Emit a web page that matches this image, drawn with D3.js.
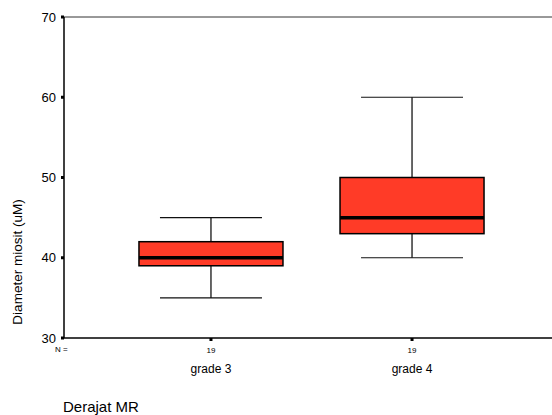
<!DOCTYPE html>
<html>
<head>
<meta charset="utf-8">
<script src="https://cdn.jsdelivr.net/npm/d3@7"></script>
<style>
  body { margin: 0; background: #fff; }
  text { font-family: "Liberation Sans", Arial, sans-serif; fill: #000; }
</style>
</head>
<body>
<svg id="chart" width="552" height="415"></svg>
<script>
// data
const groups = ['grade 3', 'grade 4'];
const counts = [19, 19];
const whiskerLow = [35, 40];
const q1 = [39, 43];
const median = [40, 45];
const q3 = [42, 50];
const whiskerHigh = [45, 60];
const yTicks = [30, 40, 50, 60, 70];

const svg = d3.select('#chart');
const plotL = 64, plotT = 17, plotB = 338, plotR = 559;
const boxW = 144, capW = 102;

const y = d3.scaleLinear().domain([30, 70]).range([plotB, plotT]);
const x = d3.scalePoint().domain(groups).range([plotL, plotR]).padding(0.731);

// frame lines
svg.append('line').attr('x1', plotL).attr('x2', 552).attr('y1', plotT).attr('y2', plotT)
    .attr('stroke', '#333').attr('stroke-width', 1);
svg.append('line').attr('x1', plotL).attr('x2', 552).attr('y1', plotB).attr('y2', plotB)
    .attr('stroke', '#000').attr('stroke-width', 1.5);
svg.append('line').attr('x1', plotL).attr('x2', plotL).attr('y1', plotT).attr('y2', plotB)
    .attr('stroke', '#000').attr('stroke-width', 1.5);

// y ticks
const yt = svg.append('g');
yt.selectAll('rect').data(yTicks).join('rect')
    .attr('x', plotL - 3).attr('y', d => y(d) - 1.5).attr('width', 3).attr('height', 3).attr('fill', '#000');
yt.selectAll('text').data(yTicks).join('text')
    .attr('x', plotL - 8).attr('y', d => y(d) + 4.5)
    .attr('text-anchor', 'end').attr('font-size', 13).text(d => d);

// x ticks
svg.selectAll('rect.xtick').data(groups).join('rect').attr('class', 'xtick')
    .attr('x', d => x(d) - 1.5).attr('y', plotB).attr('width', 3).attr('height', 3).attr('fill', '#000');

svg.append('text').attr('x', 55).attr('y', 352).attr('font-size', 8).text('N =');
svg.selectAll('text.n').data(groups).join('text').attr('class', 'n')
    .attr('x', d => x(d)).attr('y', 353).attr('text-anchor', 'middle').attr('font-size', 8)
    .text((d, i) => counts[i]);
svg.selectAll('text.cat').data(groups).join('text').attr('class', 'cat')
    .attr('x', d => x(d)).attr('y', 373).attr('text-anchor', 'middle').attr('font-size', 12)
    .text(d => d);

// boxes
const cells = svg.selectAll('g.boxplotCell').data(groups).join('g')
    .attr('class', 'boxplotCell')
    .attr('transform', d => `translate(${x(d)},0)`);
cells.append('line')
    .attr('y1', (d, i) => y(whiskerHigh[i])).attr('y2', (d, i) => y(whiskerLow[i]))
    .attr('stroke', '#000').attr('stroke-width', 1.2);
cells.append('line').attr('x1', -capW / 2).attr('x2', capW / 2)
    .attr('y1', (d, i) => y(whiskerHigh[i])).attr('y2', (d, i) => y(whiskerHigh[i]))
    .attr('stroke', '#111').attr('stroke-width', 1.2);
cells.append('line').attr('x1', -capW / 2).attr('x2', capW / 2)
    .attr('y1', (d, i) => y(whiskerLow[i])).attr('y2', (d, i) => y(whiskerLow[i]))
    .attr('stroke', '#111').attr('stroke-width', 1.2);
cells.append('rect')
    .attr('x', -boxW / 2).attr('width', boxW)
    .attr('y', (d, i) => y(q3[i])).attr('height', (d, i) => y(q1[i]) - y(q3[i]))
    .attr('fill', '#ff3b27').attr('stroke', '#000').attr('stroke-width', 1.5);
cells.append('line').attr('x1', -boxW / 2).attr('x2', boxW / 2)
    .attr('y1', (d, i) => y(median[i])).attr('y2', (d, i) => y(median[i]))
    .attr('stroke', '#000').attr('stroke-width', 3.5);

// axis titles
svg.append('text')
    .attr('transform', 'translate(22,262) rotate(-90)')
    .attr('text-anchor', 'middle').attr('font-size', 13.5)
    .text('Diameter miosit (uM)');
svg.append('text').attr('x', 63).attr('y', 412).attr('font-size', 15).text('Derajat MR');
</script>
</body>
</html>
